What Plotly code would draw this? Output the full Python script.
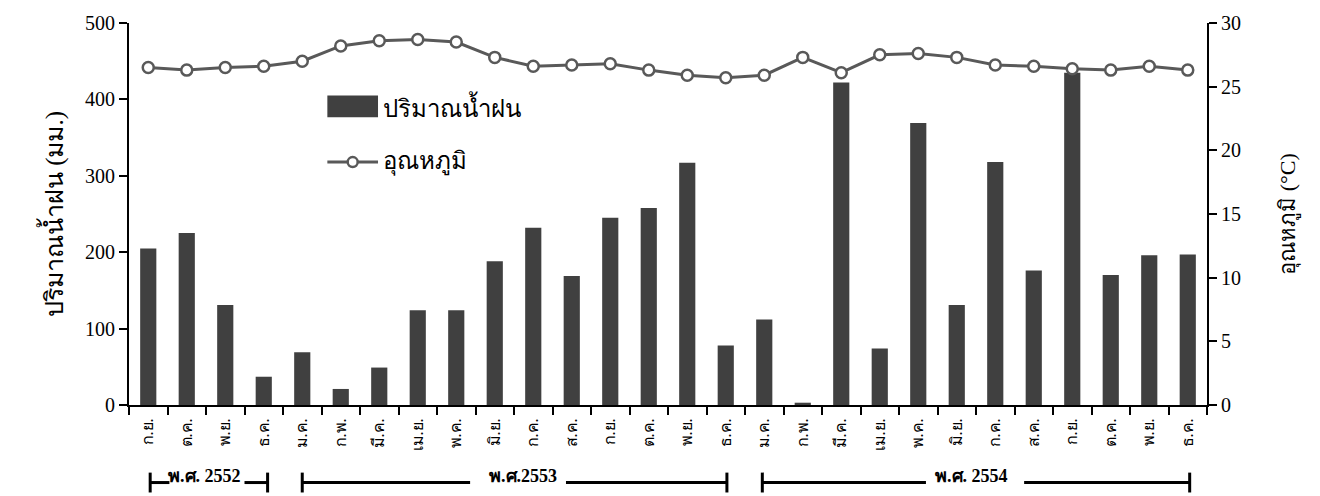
import plotly.graph_objects as go

# Monthly rainfall (mm) and mean temperature (°C), Sep 2009 (B.E. 2552) – Dec 2011 (B.E. 2554)
months = ["ก.ย.", "ต.ค.", "พ.ย.", "ธ.ค.",
          "ม.ค.", "ก.พ.", "มี.ค.", "เม.ย.", "พ.ค.", "มิ.ย.", "ก.ค.", "ส.ค.", "ก.ย.", "ต.ค.", "พ.ย.", "ธ.ค.",
          "ม.ค.", "ก.พ.", "มี.ค.", "เม.ย.", "พ.ค.", "มิ.ย.", "ก.ค.", "ส.ค.", "ก.ย.", "ต.ค.", "พ.ย.", "ธ.ค."]
rainfall = [205, 225, 131, 37,
            69, 21, 49, 124, 124, 188, 232, 169, 245, 258, 317, 78,
            112, 3, 422, 74, 369, 131, 318, 176, 435, 170, 196, 197]
temperature = [26.5, 26.3, 26.5, 26.6,
               27.0, 28.2, 28.6, 28.7, 28.5, 27.3, 26.6, 26.7, 26.8, 26.3, 25.9, 25.7,
               25.9, 27.3, 26.1, 27.5, 27.6, 27.3, 26.7, 26.6, 26.4, 26.3, 26.6, 26.3]
years = ["พ.ศ. 2552", "พ.ศ.2553", "พ.ศ. 2554"]
legend_labels = ["ปริมาณน้ำฝน", "อุณหภูมิ"]

BAR_COLOR = "#404040"
LINE_COLOR = "#595959"
SERIF = "Liberation Serif, Times New Roman, serif"

x = list(range(len(months)))

fig = go.Figure()
fig.add_trace(go.Bar(
    x=x, y=rainfall, name=legend_labels[0], width=0.42,
    marker=dict(color=BAR_COLOR, line=dict(width=0)),
))
fig.add_trace(go.Scatter(
    x=x, y=temperature, name=legend_labels[1], yaxis="y2", mode="lines+markers",
    line=dict(color=LINE_COLOR, width=3),
    marker=dict(symbol="circle", size=11, color="white", line=dict(color=LINE_COLOR, width=2.5)),
))

fig.update_layout(
    width=1320, height=496,
    margin=dict(l=129, r=113, t=20, b=91),
    paper_bgcolor="white", plot_bgcolor="white",
    font=dict(family=SERIF, color="black", size=20),
    showlegend=False,
    xaxis=dict(
        range=[-0.5, len(months) - 0.5], tickmode="array", tickvals=x, ticktext=months,
        tickangle=-90, ticks="outside", ticklen=5, tickcolor="rgba(0,0,0,0)",
        tickfont=dict(size=16, family=SERIF),
        showline=True, linecolor="black", linewidth=2, showgrid=False, zeroline=False,
        minor=dict(tickmode="array", tickvals=[i - 0.5 for i in range(len(months) + 1)],
                   ticks="outside", ticklen=8, tickwidth=2, tickcolor="black", showgrid=False),
    ),
    yaxis=dict(
        range=[0, 500], tickvals=[0, 100, 200, 300, 400, 500], ticks="outside", ticklen=8,
        tickwidth=2, tickcolor="black", showline=True, linecolor="black", linewidth=2,
        showgrid=False, zeroline=False, tickfont=dict(size=20),
        title=dict(text="ปริมาณน้ำฝน (มม.)", font=dict(size=25), standoff=14),
    ),
    yaxis2=dict(
        range=[0, 30], tickvals=[0, 5, 10, 15, 20, 25, 30], overlaying="y", side="right",
        ticks="outside", ticklen=8, tickwidth=2, tickcolor="black", showline=True,
        linecolor="black", linewidth=2, showgrid=False, zeroline=False, tickfont=dict(size=20),
        title=dict(text="อุณหภูมิ (°C)", font=dict(size=22), standoff=40),
    ),
)

# Legend drawn in plot-area coordinates: swatch / line sample followed by label
lx0, lx1 = 0.184, 0.231
fig.add_shape(type="rect", xref="paper", yref="paper", x0=lx0, x1=lx1, y0=0.753, y1=0.81,
              fillcolor=BAR_COLOR, line=dict(width=0))
fig.add_annotation(x=lx1 + 0.003, y=0.782, xref="paper", yref="paper", text=legend_labels[0],
                   showarrow=False, xanchor="left", yanchor="middle", font=dict(size=24))
fig.add_shape(type="line", xref="paper", yref="paper", x0=lx0, x1=lx1, y0=0.636, y1=0.636,
              line=dict(color=LINE_COLOR, width=3))
fig.add_shape(type="circle", xref="paper", yref="paper", xsizemode="pixel", ysizemode="pixel",
              xanchor=(lx0 + lx1) / 2, yanchor=0.636, x0=-5, x1=5, y0=-5, y1=5,
              fillcolor="white", line=dict(color=LINE_COLOR, width=2.5))
fig.add_annotation(x=lx1 + 0.003, y=0.636, xref="paper", yref="paper", text=legend_labels[1],
                   showarrow=False, xanchor="left", yanchor="middle", font=dict(size=24))

# Year brackets under the month labels: (start, gap start, label centre, gap end, end)
brackets = [
    (0.05, 0.55, 1.47, 2.5, 3.1, years[0]),
    (4.0, 8.36, 9.73, 10.85, 15.03, years[1]),
    (15.95, 20.2, 21.37, 22.75, 27.05, years[2]),
]
y_line = -0.203
for x0, g0, xt, g1, x1, label in brackets:
    for a, b in ((x0, g0), (g1, x1)):
        fig.add_shape(type="line", xref="x", yref="paper", x0=a, x1=b, y0=y_line, y1=y_line,
                      line=dict(color="black", width=3))
    for xc in (x0, x1):
        fig.add_shape(type="line", xref="x", yref="paper", x0=xc, x1=xc,
                      y0=y_line - 0.026, y1=y_line + 0.026, line=dict(color="black", width=3))
    fig.add_annotation(x=xt, y=y_line, xref="x", yref="paper", text="<b>%s</b>" % label,
                       showarrow=False, yshift=-5, font=dict(size=18, family=SERIF))

fig.write_html("out.html")
